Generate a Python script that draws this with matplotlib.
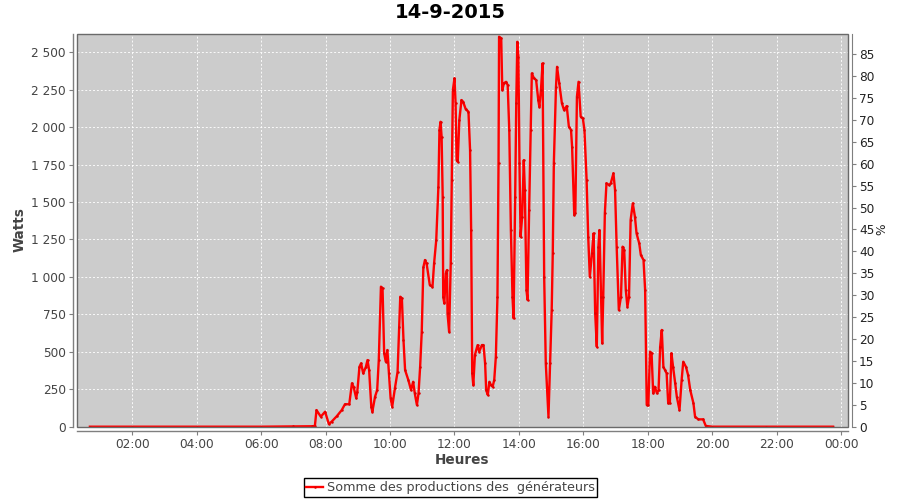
import matplotlib
matplotlib.use("Agg")
import matplotlib.pyplot as plt
from matplotlib.ticker import FixedLocator, FuncFormatter, MultipleLocator
from matplotlib.patches import Rectangle

# ---- data (minutes since midnight, watts) ----
minutes = [41, 120, 240, 360, 420, 455, 460, 463, 471, 479, 486, 491, 501, 510, 516, 524,
           529, 532, 537, 539, 543, 546, 550, 555, 558, 561, 565, 567, 572, 576, 579, 583,
           586, 589, 592, 595, 598, 601, 604, 609, 614, 617, 619, 622, 625, 628, 634, 639,
           643, 646, 650, 653, 656, 659, 662, 665, 668, 674, 679, 682, 686, 690, 692, 694,
           696, 698, 699, 701, 704, 706, 707, 710, 713, 715, 717, 720, 722, 724, 726, 729,
           733, 736, 741, 746, 749, 751, 753, 755, 758, 763, 766, 771, 774, 777, 779, 782,
           785, 788, 791, 794, 797, 800, 802, 803, 807, 809, 812, 816, 819, 822, 825, 828,
           830, 833, 835, 837, 839, 841, 843, 846, 849, 851, 854, 856, 859, 862, 864, 868,
           872, 876, 878, 881, 884, 887, 890, 895, 898, 901, 903, 905, 909, 911, 915, 920,
           924, 929, 933, 937, 939, 943, 945, 948, 951, 955, 959, 962, 966, 969, 972, 976,
           979, 982, 985, 988, 990, 993, 995, 997, 1000, 1003, 1008, 1011, 1016, 1019, 1022,
           1026, 1030, 1033, 1036, 1039, 1042, 1045, 1048, 1052, 1056, 1059, 1064, 1067,
           1072, 1075, 1078, 1081, 1084, 1087, 1090, 1093, 1097, 1100, 1103, 1106, 1109,
           1112, 1115, 1118, 1121, 1124, 1127, 1131, 1134, 1139, 1143, 1146, 1151, 1155,
           1159, 1165, 1168, 1174, 1183, 1188, 1200, 1300, 1425]
watts = [0, 0, 0, 0, 2, 3, 5, 111, 67, 100, 18, 33, 71, 111, 150, 150,
         290, 267, 190, 234, 400, 423, 356, 400, 445, 378, 134, 100, 200, 245, 445, 935,
         924, 490, 434, 512, 356, 190, 134, 256, 367, 668, 868, 857, 579, 378, 312, 245,
         300, 223, 145, 223, 400, 634, 1064, 1113, 1090, 946, 934, 1091, 1246, 1602, 1981, 2036,
         1936, 1536, 868, 824, 1024, 1046, 757, 634, 1091, 1647, 2248, 2326, 2159, 1780, 1769, 2048,
         2181, 2170, 2119, 2103, 1847, 1313, 356, 278, 479, 545, 501, 545, 545, 423, 245, 212,
         300, 278, 267, 312, 467, 868, 1758, 2604, 2593, 2248, 2293, 2303, 2281, 1981, 1313, 868,
         724, 1536, 2159, 2570, 2470, 1758, 1268, 1402, 1780, 1580, 912, 846, 1447, 1981, 2359, 2326,
         2315, 2181, 2136, 2248, 2426, 1001, 423, 67, 423, 779, 1158, 1758, 2270, 2403, 2293, 2159,
         2114, 2141, 2003, 1981, 1869, 1413, 1425, 2203, 2303, 2070, 2059, 1981, 1647, 1268, 1001, 1158,
         1291, 757, 534, 1202, 1313, 868, 557, 868, 1425, 1625, 1614, 1625, 1692, 1580, 1202,
         779, 868, 1202, 1180, 912, 801, 868, 1380, 1491, 1402, 1291, 1224, 1146,
         1113, 912, 145, 145, 501, 490, 223, 267, 223, 245, 534, 646, 400,
         378, 356, 156, 156, 490, 400, 290, 200, 111, 312, 434, 400, 345,
         245, 156, 67, 49, 49, 5, 0, 0, 0]

x_ticks = [120, 240, 360, 480, 600, 720, 840, 960, 1080, 1200, 1320, 1440]
x_tick_labels = ["02:00", "04:00", "06:00", "08:00", "10:00", "12:00",
                 "14:00", "16:00", "18:00", "20:00", "22:00", "00:00"]
title = "14-9-2015"
series_name = "Somme des productions des  générateurs"

W, H = 900, 500
fig = plt.figure(figsize=(9, 5), dpi=100)
plt.rcParams['font.family'] = ['DejaVu Sans']

left, right, top, bottom = 77, 848, 34, 426.7
ax = fig.add_axes([left / W, 1 - bottom / H, (right - left) / W, (bottom - top) / H])
ax.set_facecolor('#CCCCCC')
ax.set_xlim(17.0, 1452.8)
ax.set_ylim(0, 2622)

axis_col = '#7f7f7f'
txt_col = '#444444'

for s in ['top', 'right']:
    ax.spines[s].set_visible(False)
ax.spines['left'].set_position(('outward', 3))
ax.spines['bottom'].set_position(('outward', 3))
for s in ['left', 'bottom']:
    ax.spines[s].set_color(axis_col)
    ax.spines[s].set_linewidth(1.0)

ax.add_patch(Rectangle((0, 0), 1, 1, transform=ax.transAxes, fill=False,
                       edgecolor='#6a6a6a', linewidth=1.0, zorder=5, clip_on=False))

ax.xaxis.set_major_locator(FixedLocator(x_ticks))
ax.set_xticklabels(x_tick_labels)
ax.yaxis.set_major_locator(MultipleLocator(250))
ax.yaxis.set_major_formatter(FuncFormatter(lambda v, p: f"{int(round(v)):,}".replace(",", "\u00a0")))
ax.tick_params(axis='both', direction='out', length=3, width=0.8, color=axis_col,
               labelsize=8.7, labelcolor=txt_col, pad=2)

ax.grid(True, color='white', linestyle=(0, (2, 2)), linewidth=0.7, alpha=0.9)
ax.set_axisbelow(True)

line, = ax.plot(minutes, watts, color='#ff0000', linewidth=1.7, marker='o',
                markersize=0.8, markerfacecolor='#e00000', markeredgecolor='#e00000',
                zorder=4, solid_joinstyle='round', label=series_name)

ax2 = ax.twinx()
ax2.set_ylim(0, 89.6)
for s in ['top', 'left', 'bottom']:
    ax2.spines[s].set_visible(False)
ax2.spines['right'].set_position(('outward', 3))
ax2.spines['right'].set_color(axis_col)
ax2.yaxis.set_major_locator(MultipleLocator(5))
ax2.tick_params(axis='y', direction='out', length=3, width=0.8, color=axis_col,
                labelsize=8.7, labelcolor='#222222', pad=2)
ax2.patch.set_visible(False)

fig.text(450 / W, 1 - 12.5 / H, title, ha='center', va='center',
         fontsize=14, fontweight='bold', color='black')
fig.text(20 / W, 1 - 230 / H, "Watts", ha='center', va='center', rotation=90,
         fontsize=9.8, fontweight='bold', color=txt_col)
fig.text(461.5 / W, 1 - 460 / H, "Heures", ha='center', va='center',
         fontsize=9.8, fontweight='bold', color=txt_col)
fig.text(882 / W, 1 - 229 / H, "%", ha='center', va='center', rotation=90,
         fontsize=8.7, color='#222222')

leg = fig.legend(handles=[line], loc='center', bbox_to_anchor=(450.5 / W, 1 - 487.5 / H),
                 fancybox=False, edgecolor='black', framealpha=1, fontsize=9.2,
                 handlelength=1.3, handletextpad=0.3, borderpad=0.2, borderaxespad=0)
leg.get_frame().set_linewidth(1.0)
for t in leg.get_texts():
    t.set_color(txt_col)

fig.savefig("out.png", dpi=100)
